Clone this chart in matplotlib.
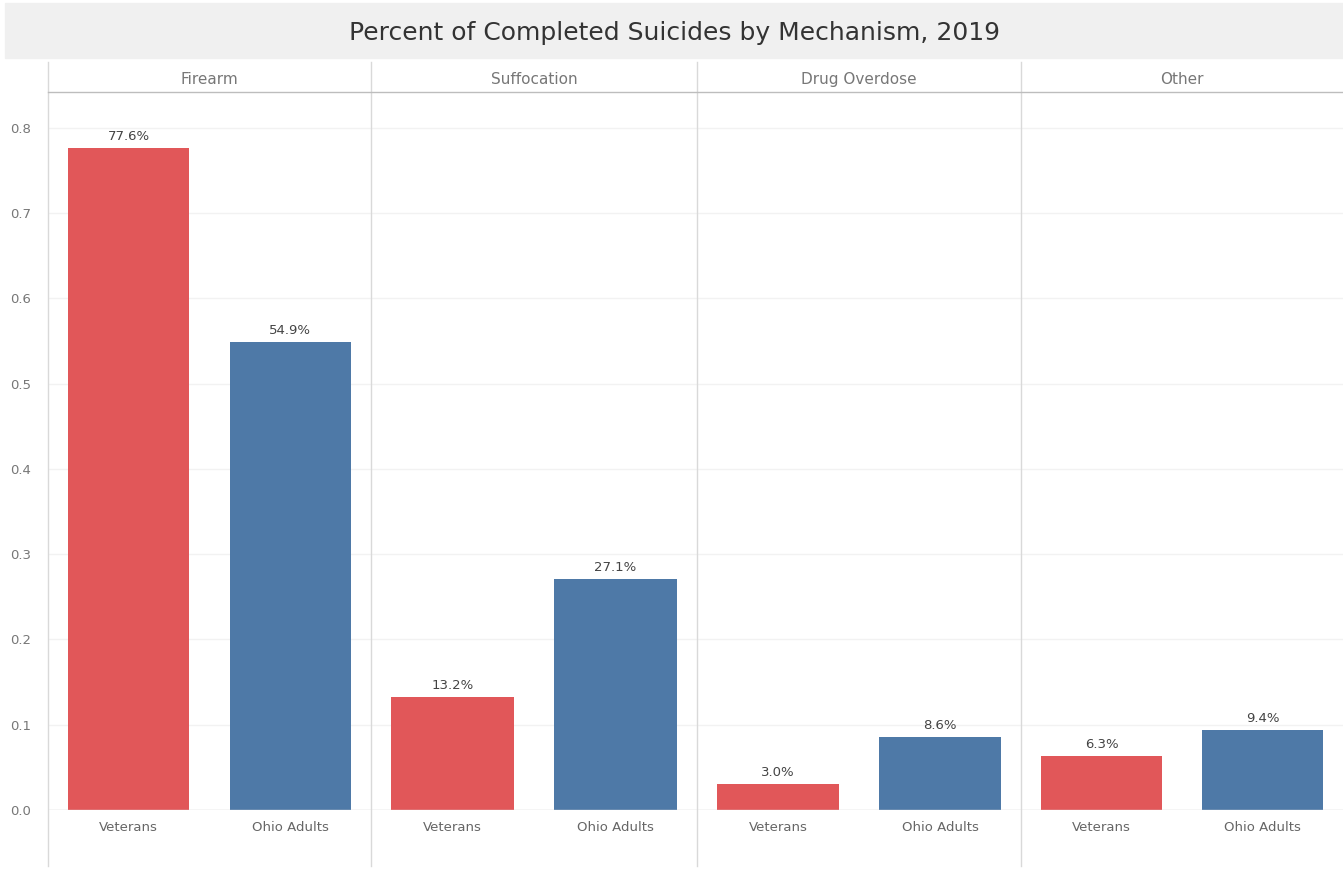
import matplotlib.pyplot as plt
from matplotlib.patches import Rectangle
from matplotlib.lines import Line2D

mechanisms = ["Firearm", "Suffocation", "Drug Overdose", "Other"]
groups = ["Veterans", "Ohio Adults"]
veterans = [0.776, 0.132, 0.030, 0.063]
ohio_adults = [0.549, 0.271, 0.086, 0.094]
yticks = [0.0, 0.1, 0.2, 0.3, 0.4, 0.5, 0.6, 0.7, 0.8]

colors = ["#e15759", "#4e79a7"]
W, H = 1343, 871
fig = plt.figure(figsize=(W / 100, H / 100), dpi=100)

# title band
fig.patches.append(Rectangle((5 / W, 1 - 58 / H), 1 - 5 / W, 55 / H,
                             transform=fig.transFigure, color="#f0f0f0", zorder=0))
fig.text(675 / W, 1 - 33 / H, "Percent of Completed Suicides by Mechanism, 2019",
         ha="center", va="center", fontsize=18, color="#333333")

edges = [48, 371, 697, 1021, 1343]
top, bottom = 92, 810
ymax = 0.842

for i, mech in enumerate(mechanisms):
    x0, x1 = edges[i], edges[i + 1]
    ax = fig.add_axes([x0 / W, 1 - bottom / H, (x1 - x0) / W, (bottom - top) / H])
    vals = [veterans[i], ohio_adults[i]]
    bars = ax.bar([0, 1], vals, width=0.75, color=colors, zorder=2)
    for b, v in zip(bars, vals):
        ax.text(b.get_x() + b.get_width() / 2, v + 0.006, f"{v * 100:.1f}%",
                ha="center", va="bottom", fontsize=9.5, color="#444444")
    ax.set_xlim(-0.5, 1.5)
    ax.set_ylim(0, ymax)
    ax.set_yticks(yticks)
    ax.grid(axis="y", color="#f2f2f2", linewidth=1, zorder=0)
    ax.axhline(0, color="#d9d9d9", linewidth=1, zorder=3)
    ax.set_xticks([0, 1])
    ax.set_xticklabels(groups, fontsize=9.5, color="#666666")
    ax.tick_params(length=0, pad=8)
    if i == 0:
        ax.set_yticklabels([f"{t:.1f}" for t in yticks], fontsize=9.5, color="#777777")
        ax.tick_params(axis="y", pad=12)
    else:
        ax.tick_params(axis="y", labelleft=False)
    for s in ax.spines.values():
        s.set_visible(False)
    fig.text((x0 + x1) / 2 / W, 1 - 78 / H, mech, ha="center", va="center_baseline",
             fontsize=11, color="#777777")

# panel separators and header rule
for x in edges[:-1]:
    fig.add_artist(Line2D([x / W, x / W], [1 - 62 / H, 1 - 866 / H],
                          transform=fig.transFigure, color="#d9d9d9", linewidth=1))
fig.add_artist(Line2D([48 / W, 1], [1 - 92 / H, 1 - 92 / H],
                      transform=fig.transFigure, color="#bdbdbd", linewidth=1))

fig.savefig("out.png", dpi=100)
